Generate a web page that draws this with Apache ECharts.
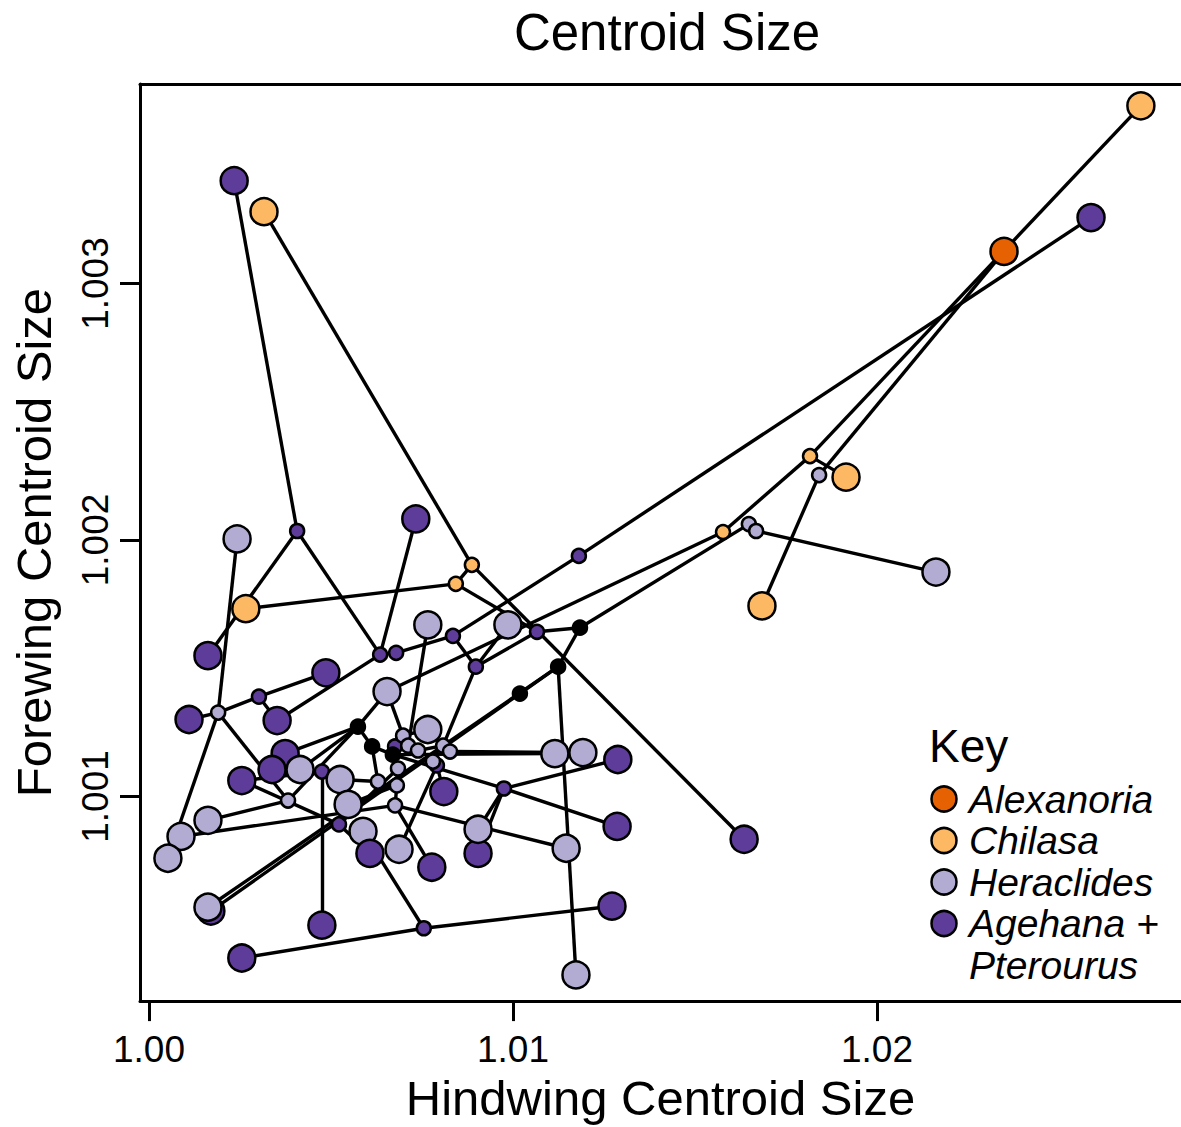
<!DOCTYPE html>
<html>
<head>
<meta charset="utf-8">
<title>Centroid Size</title>
<script src="https://cdn.jsdelivr.net/npm/echarts@6/dist/echarts.min.js"></script>
<style>
  html, body { margin: 0; padding: 0; background: #fff; }
  #chart { width: 1181px; height: 1127px; }
</style>
</head>
<body>
<div id="chart"></div>
<script>
// colours of the four clades (PuOr), black for deep nodes
const groupColor = { A: '#e66101', C: '#fdb863', H: '#b2abd2', P: '#5e3c99', B: '#000000' };
const keyLabels = ['Alexanoria', 'Chilasa', 'Heraclides', 'Agehana +'];
const keyGroups = ['A', 'C', 'H', 'P'];

const xTicks = [1.00, 1.01, 1.02];
const yTicks = [1.001, 1.002, 1.003];

// tips (large circles): hindwing size, forewing size, clade
const tipId = ['t1','t2','t3','t4','t5','t6','t7','t8','t9','t10','t11','t12','t13','t14','t15','t16','t17','t18','t19','t20','t21','t22','t23','t24','t25','t26','t27','t28','t29','t30','t31','t32','t33','t34','t35','t36','t37','t38','t39','t40','t41','t42','t43','t44','t45','t46','t47'];
const tipX = [1.00234,1.00316,1.00242,1.00733,1.00266,1.00162,1.00486,1.00654,1.00766,1.00986,1.00110,1.00352,1.00374,1.00338,1.00415,1.00255,1.00525,1.00547,1.00810,1.00162,1.00088,1.00052,1.00588,1.00607,1.00687,1.00777,1.00904,1.00904,1.01286,1.01288,1.01115,1.01192,1.01146,1.01635,1.00170,1.00162,1.00475,1.00255,1.01272,1.01173,1.02162,1.01915,1.01684,1.02349,1.02725,1.02588,1.00766];
const tipY = [1.003401,1.003280,1.002004,1.002082,1.001732,1.001549,1.001482,1.001409,1.001669,1.001669,1.001300,1.001296,1.001167,1.001105,1.001105,1.001062,1.001066,1.000969,1.001019,1.000907,1.000844,1.000759,1.000864,1.000778,1.000794,1.000724,1.000778,1.000872,1.000883,1.001144,1.001167,1.001171,1.000798,1.000833,1.000553,1.000568,1.000498,1.000370,1.000572,1.000304,1.001875,1.002245,1.001743,1.003125,1.003693,1.003257,1.001261];
const tipGroup = ['P','C','H','P','C','P','P','H','H','H','P','P','P','P','H','P','H','H','P','H','H','H','H','P','H','P','P','H','P','P','H','H','H','P','P','H','P','P','P','H','H','C','C','A','C','P','H'];

// internal nodes (small circles)
const nodeId = ['n1','n2','n3','n4','n5','n6','n7','n8','n9','n10','n11','n12','n13','n14','n15','n16','n17','n18','n19','n20','n21','n22','n23','b1','b2','b3','b4','b5','b6','h1','h2','h3','h4','h5','h6','h7','h8','h9','h10'];
const nodeX = [1.00407,1.01181,1.00887,1.00843,1.01577,1.01648,1.01668,1.01816,1.01841,1.01066,1.00835,1.00898,1.00635,1.00679,1.00190,1.00302,1.00475,1.00382,1.00522,1.00975,1.00755,1.00676,1.00791,1.00574,1.00613,1.00670,1.01019,1.01124,1.01184,1.00698,1.00712,1.00739,1.00684,1.00681,1.00629,1.00676,1.00780,1.00808,1.00827];
const nodeY = [1.002035,1.001938,1.001903,1.001829,1.002031,1.002062,1.002035,1.002327,1.002253,1.001642,1.001626,1.001506,1.001553,1.001560,1.001327,1.001389,1.001097,1.000984,1.000891,1.001031,1.000486,1.001195,1.001121,1.001272,1.001195,1.001163,1.001401,1.001506,1.001658,1.001237,1.001198,1.001179,1.001109,1.001043,1.001058,1.000965,1.001136,1.001198,1.001175];
const nodeGroup = ['P','P','C','C','C','H','H','C','H','P','P','P','P','P','H','P','P','H','P','P','P','P','P','B','B','B','B','B','B','H','H','H','H','H','H','H','H','H','H'];

// branches of the tree
const edgeFrom = ['t1','n1','n1','t2','n3','n3','n4','n4','t3','n15','n15','n15','n16','n16','n15','n18','t4','n13','n14','n11','n11','n12','n10','b6','b5','b5','b4','b5','b6','n6','n7','n5','n8','n9','t45','t44','t46','t8','t10','b1','b1','b2','b3','b3','b3','b3','h1','h1','h2','h2','h3','h9','h10','h8','n23','n23','h4','h5','h6','h6','h5','h7','h7','n17','n17','n19','n19','n19','n21','n21','n21','n20','n20','n20','n20','t15','n18','t12','t13','t14','t26'];
const edgeTo   = ['n1','t6','n13','n3','n4','t34','t5','n10','n15','t22','t11','n16','t7','t12','n18','t20','n13','n14','n11','n2','n12','n10','b6','b5','b4','t40','t35','t36','n6','n7','t41','n8','t42','t43','n8','n9','n2','n5','n12','t8','b2','b3','n22','h4','t31','n20','t47','t8','t9','h3','h9','n12','t32','n23','t19','t25','h5','t18','t17','b2','h7','t33','t21','t37','t16','t16','t24','h4','t38','t39','t23','t30','t28','t27','t29','b1','b1','n13','b1','n17','h7'];

const pos = {};
tipId.forEach((id, i) => { pos[id] = [tipX[i], tipY[i]]; });
nodeId.forEach((id, i) => { pos[id] = [nodeX[i], nodeY[i]]; });

const edgeData = edgeFrom.map((f, i) => ({ coords: [pos[f], pos[edgeTo[i]]] }));
const nodeData = nodeId.map((id, i) => ({
  value: [nodeX[i], nodeY[i]],
  symbolSize: 14,
  itemStyle: { color: groupColor[nodeGroup[i]] }
}));
const tipData = tipId.map((id, i) => ({
  value: [tipX[i], tipY[i]],
  itemStyle: { color: groupColor[tipGroup[i]] }
}));

const FONT = '"Liberation Sans", Arial, sans-serif';
const chart = echarts.init(document.getElementById('chart'), null, { renderer: 'svg' });

const keyItems = [];
keyGroups.forEach((g, i) => {
  keyItems.push({
    type: 'circle', shape: { cx: 944, cy: 799 + i * 41.5, r: 12.5 },
    style: { fill: groupColor[g], stroke: '#000', lineWidth: 2.5 }
  });
  keyItems.push({
    type: 'text', x: 969, y: 799 + i * 41.5,
    style: { text: keyLabels[i], font: 'italic 39px ' + FONT, fill: '#000', textVerticalAlign: 'middle' }
  });
});
keyItems.push({
  type: 'text', x: 969, y: 965,
  style: { text: 'Pterourus', font: 'italic 39px ' + FONT, fill: '#000', textVerticalAlign: 'middle' }
});
keyItems.push({
  type: 'text', x: 929, y: 746,
  style: { text: 'Key', font: '46px ' + FONT, fill: '#000', textVerticalAlign: 'middle' }
});

const X_MIN = 0.999753, X_MAX = 1.028352;
const Y_MIN = 1.000202, Y_MAX = 1.003778;

chart.setOption({
  animation: false,
  backgroundColor: '#fff',
  title: {
    text: 'Centroid Size', left: 662, top: 2, textAlign: 'center',
    textStyle: { fontFamily: FONT, fontSize: 51, fontWeight: 'normal', color: '#000' }
  },
  grid: { left: 140, top: 84, right: 0, height: 919, show: false },
  xAxis: [{
    type: 'value', min: X_MIN, max: X_MAX, position: 'bottom',
    name: 'Hindwing Centroid Size', nameLocation: 'middle', nameGap: 70,
    nameTextStyle: { fontFamily: FONT, fontSize: 49, color: '#000' },
    axisLine: { show: true, lineStyle: { color: '#000', width: 3 } },
    axisTick: { show: true, customValues: xTicks, length: 20, lineStyle: { color: '#000', width: 3 } },
    axisLabel: { customValues: xTicks, formatter: v => v.toFixed(2), fontFamily: FONT, fontSize: 37, color: '#000', margin: 30 },
    splitLine: { show: false }
  }, {
    type: 'value', min: X_MIN, max: X_MAX, position: 'top',
    axisLine: { show: true, lineStyle: { color: '#000', width: 3 } },
    axisTick: { show: false }, axisLabel: { show: false }, splitLine: { show: false }
  }],
  yAxis: {
    type: 'value', min: Y_MIN, max: Y_MAX,
    name: 'Forewing Centroid Size', nameLocation: 'middle', nameGap: 82,
    nameTextStyle: { fontFamily: FONT, fontSize: 49, color: '#000' },
    axisLine: { show: true, lineStyle: { color: '#000', width: 3 } },
    axisTick: { show: true, customValues: yTicks, length: 20, lineStyle: { color: '#000', width: 3 } },
    axisLabel: { customValues: yTicks, formatter: v => v.toFixed(3), rotate: 90, fontFamily: FONT, fontSize: 37, color: '#000', margin: 26 },
    splitLine: { show: false }
  },
  graphic: keyItems,
  series: [
    {
      type: 'lines', coordinateSystem: 'cartesian2d', z: 1,
      lineStyle: { color: '#000', width: 3.4, opacity: 1 },
      silent: true, data: edgeData
    },
    {
      type: 'scatter', z: 2, symbol: 'circle',
      itemStyle: { borderColor: '#000', borderWidth: 2.5, opacity: 1 },
      data: nodeData
    },
    {
      type: 'scatter', z: 3, symbol: 'circle', symbolSize: 27,
      itemStyle: { borderColor: '#000', borderWidth: 2.5, opacity: 1 },
      data: tipData
    }
  ]
});
</script>
</body>
</html>
